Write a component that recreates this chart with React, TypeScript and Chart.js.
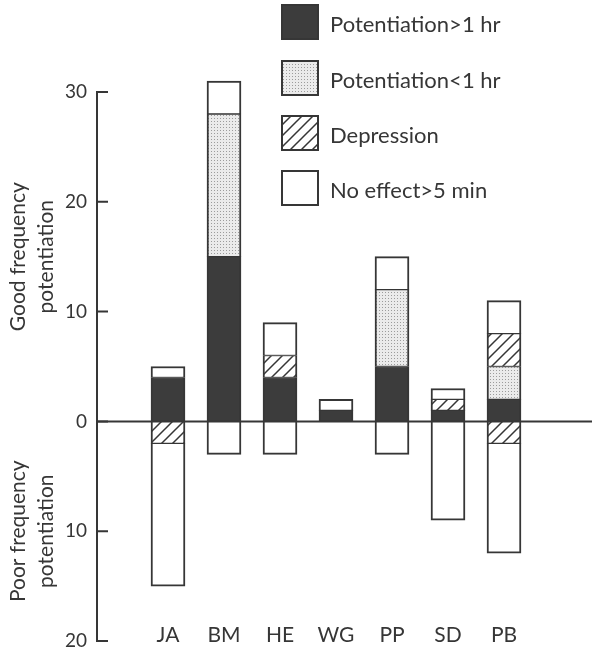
import React, { useEffect, useRef } from 'react';
import { Chart, registerables } from 'chart.js';

Chart.register(...registerables);

const categories = ['JA', 'BM', 'HE', 'WG', 'PP', 'SD', 'PB'];
const potentiationOver1h = [4, 15, 4, 1, 5, 1, 2];
const potentiationUnder1h = [0, 13, 0, 0, 7, 0, 3];
const depressionGood = [0, 0, 2, 0, 0, 1, 3];
const noEffectGood = [1, 3, 3, 1, 3, 1, 3];
const depressionPoor = [2, 0, 0, 0, 0, 0, 2];
const noEffectPoor = [13, 3, 3, 0, 3, 9, 10];
const yTicks = [30, 20, 10, 0, -10, -20];
const legendLabels = ['Potentiation>1 hr', 'Potentiation<1 hr', 'Depression', 'No effect>5 min'];
const goodTitle = ['Good frequency', 'potentiation'];
const poorTitle = ['Poor frequency', 'potentiation'];

const INK = '#363636';
const FONT = 'Lato, "Open Sans", sans-serif';

function makeStipple(): CanvasPattern | string {
  const c = document.createElement('canvas');
  c.width = 3;
  c.height = 3;
  const g = c.getContext('2d');
  if (!g) return '#ddd';
  g.fillStyle = '#ebebeb';
  g.fillRect(0, 0, 3, 3);
  g.fillStyle = '#9c9c9c';
  g.fillRect(1, 1, 1, 1);
  return g.createPattern(c, 'repeat') || '#ddd';
}

function makeHatch(): CanvasPattern | string {
  const s = 11;
  const c = document.createElement('canvas');
  c.width = s;
  c.height = s;
  const g = c.getContext('2d');
  if (!g) return '#fff';
  g.fillStyle = '#ffffff';
  g.fillRect(0, 0, s, s);
  g.strokeStyle = INK;
  g.lineWidth = 1.5;
  g.beginPath();
  g.moveTo(-1, s + 1);
  g.lineTo(s + 1, -1);
  g.moveTo(-2, 2);
  g.lineTo(2, -2);
  g.moveTo(s - 2, s + 2);
  g.lineTo(s + 2, s - 2);
  g.stroke();
  return g.createPattern(c, 'repeat') || '#fff';
}

const bw = (top: number, bottom: number) => ({ top, bottom, left: 2, right: 2 });

const decorPlugin = {
  id: 'decor',
  afterDatasetsDraw(chart: any) {
    const { ctx, chartArea, scales } = chart;
    const x = scales.x;
    const y = scales.y;
    const axisX = chartArea.left - 43;
    ctx.save();
    ctx.strokeStyle = INK;
    ctx.lineWidth = 2;
    ctx.lineCap = 'butt';
    // vertical axis
    ctx.beginPath();
    ctx.moveTo(axisX, y.getPixelForValue(yTicks[0]) - 1);
    ctx.lineTo(axisX, y.getPixelForValue(yTicks[yTicks.length - 1]) + 1);
    ctx.stroke();
    // inward tick marks
    ctx.beginPath();
    yTicks.forEach((t) => {
      const py = y.getPixelForValue(t);
      ctx.moveTo(axisX - 1, py);
      ctx.lineTo(axisX + 11, py);
    });
    ctx.stroke();
    // zero line
    const y0 = y.getPixelForValue(0);
    ctx.beginPath();
    ctx.moveTo(axisX, y0);
    ctx.lineTo(chart.width, y0);
    ctx.stroke();

    // category labels
    ctx.fillStyle = INK;
    ctx.font = `21px ${FONT}`;
    ctx.textAlign = 'center';
    ctx.textBaseline = 'alphabetic';
    const labelY = y.getPixelForValue(-20) + 1;
    categories.forEach((c, i) => {
      ctx.fillText(c, x.getPixelForValue(i), labelY);
    });

    // axis titles
    ctx.font = `21px ${FONT}`;
    ctx.textBaseline = 'middle';
    const drawTitle = (lines: string[], value: number) => {
      const cy = y.getPixelForValue(value);
      const xs = [18, 46];
      lines.forEach((line, i) => {
        ctx.save();
        ctx.translate(xs[i], cy);
        ctx.rotate(-Math.PI / 2);
        ctx.fillText(line, 0, 0);
        ctx.restore();
      });
    };
    drawTitle(goodTitle, 15);
    drawTitle(poorTitle, -10);

    // legend
    const sx = 281;
    const sw = 38;
    const sh = 36;
    const tops = [4, 60, 115, 170];
    ctx.textAlign = 'left';
    ctx.font = `22px ${FONT}`;
    chart.data.datasets.slice(0, 4).forEach((ds: any, i: number) => {
      const top = tops[i];
      ctx.fillStyle = ds.backgroundColor;
      ctx.fillRect(sx, top, sw, sh);
      ctx.strokeStyle = INK;
      ctx.lineWidth = 2;
      ctx.strokeRect(sx + 1, top + 1, sw - 2, sh - 2);
      ctx.fillStyle = INK;
      ctx.fillText(ds.label, sx + 49, top + sh / 2 + 3);
    });
    ctx.restore();
  },
};

export default function App() {
  const ref = useRef<HTMLCanvasElement | null>(null);

  useEffect(() => {
    document.body.style.margin = '0';
    const canvas = ref.current;
    if (!canvas) return;
    const stipple = makeStipple();
    const hatch = makeHatch();
    const dark = '#3c3c3c';
    const common = { borderColor: INK, borderSkipped: false as const, clip: false as const, barThickness: 34 };
    const chart = new Chart(canvas, {
      type: 'bar',
      data: {
        labels: categories,
        datasets: [
          { ...common, label: legendLabels[0], data: potentiationOver1h, backgroundColor: dark, borderWidth: bw(1, 1) },
          { ...common, label: legendLabels[1], data: potentiationUnder1h, backgroundColor: stipple as any, borderWidth: bw(1, 1) },
          { ...common, label: legendLabels[2], data: depressionGood, backgroundColor: hatch as any, borderWidth: bw(1, 1) },
          { ...common, label: legendLabels[3], data: noEffectGood, backgroundColor: '#ffffff', borderWidth: bw(2, 1) },
          { ...common, label: 'Depression (poor)', data: depressionPoor.map((v) => -v), backgroundColor: hatch as any, borderWidth: bw(1, 1) },
          { ...common, label: 'No effect (poor)', data: noEffectPoor.map((v) => -v), backgroundColor: '#ffffff', borderWidth: bw(1, 2) },
        ],
      },
      options: {
        responsive: true,
        maintainAspectRatio: false,
        animation: false,
        devicePixelRatio: 1,
        layout: { padding: { left: 0, right: 60, top: 92, bottom: 9 } },
        plugins: { legend: { display: false }, tooltip: { enabled: false } },
        scales: {
          x: { stacked: true, display: false, offset: true },
          y: {
            stacked: true,
            min: -20,
            max: 30,
            grid: { display: false, drawTicks: false },
            border: { display: false },
            ticks: {
              stepSize: 10,
              padding: 53,
              color: INK,
              font: { family: FONT, size: 19 },
              callback: (v: any) => String(Math.abs(Number(v))),
            },
            afterFit: (s: any) => {
              s.width = 140;
              s.paddingTop = 0;
              s.paddingBottom = 0;
            },
          },
        },
      },
      plugins: [decorPlugin],
    });
    return () => chart.destroy();
  }, []);

  return (
    <div style={{ width: 592, height: 650, position: 'relative', background: '#fff' }}>
      <canvas ref={ref} style={{ display: 'block' }} />
    </div>
  );
}
